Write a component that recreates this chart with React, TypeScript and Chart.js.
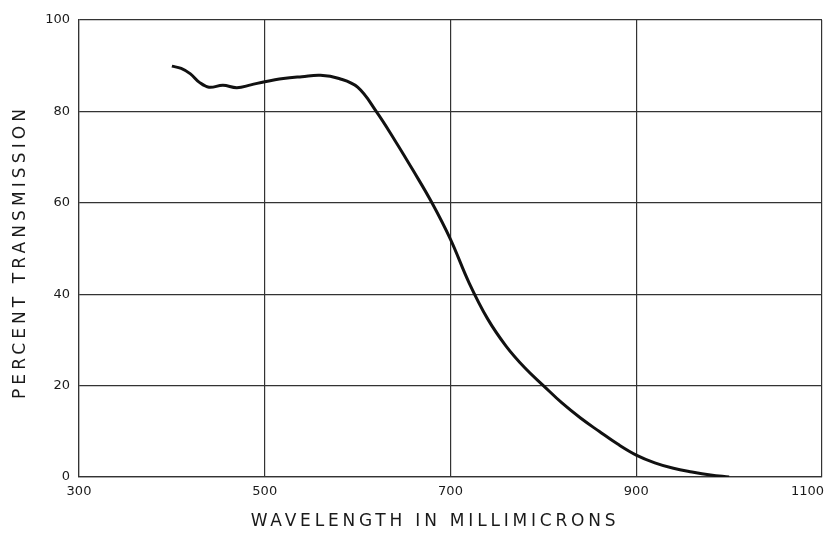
import React, { useEffect, useRef } from "react";
import { Chart, registerables } from "chart.js";

Chart.register(...registerables);

const wavelengths = [400, 410, 420, 430, 440, 455, 470, 485, 500, 520, 540, 560, 580, 600, 620, 640, 660, 680, 700, 720, 740, 760, 780, 800, 820, 840, 860, 880, 900, 920, 940, 960, 980, 1000];
const transmission = [89.9, 89.4, 88.2, 86.3, 85.3, 85.7, 85.2, 85.8, 86.5, 87.2, 87.6, 87.9, 87.2, 85.3, 80, 73.7, 67, 60, 52, 42.5, 34.6, 28.6, 23.9, 20, 16.2, 12.9, 10, 7.2, 4.8, 3.1, 1.9, 1.1, 0.45, 0];
const xTicks = [300, 500, 700, 900, 1100];
const yTicks = [0, 20, 40, 60, 80, 100];
const xTitle = "WAVELENGTH IN MILLIMICRONS";
const yTitle = "PERCENT TRANSMISSION";

const textColor = "#1a1a1a";

const labelsPlugin = {
  id: "labelsPlugin",
  afterDraw(chart: any) {
    const ctx = chart.ctx as CanvasRenderingContext2D;
    const xs = chart.scales.x;
    const area = chart.chartArea;
    ctx.save();
    ctx.fillStyle = textColor;
    ctx.font = '13px "DejaVu Sans"';
    ctx.textBaseline = "top";
    xTicks.forEach((v, i) => {
      const px = xs.getPixelForValue(v);
      const last = i === xTicks.length - 1;
      ctx.textAlign = last ? "right" : "center";
      ctx.fillText(String(v), last ? px + 2 : px, area.bottom + 8);
    });
    (ctx as any).letterSpacing = "3.8px";
    ctx.font = '17px "DejaVu Sans"';
    ctx.textAlign = "center";
    ctx.textBaseline = "middle";
    ctx.fillText(xTitle, 435, 522);
    ctx.translate(21, 252);
    ctx.rotate(-Math.PI / 2);
    (ctx as any).letterSpacing = "4.1px";
    ctx.fillText(yTitle, 0, 0);
    ctx.restore();
  },
};

export default function App() {
  const ref = useRef<HTMLCanvasElement | null>(null);
  useEffect(() => {
    if (!ref.current) return;
    const chart = new Chart(ref.current, {
      type: "line",
      data: {
        datasets: [
          {
            data: wavelengths.map((w, i) => ({ x: w, y: transmission[i] })),
            borderColor: "#111",
            borderWidth: 3,
            pointRadius: 0,
            tension: 0.4,
            fill: false,
          },
        ],
      },
      options: {
        animation: false,
        responsive: false,
        events: [],
        layout: { padding: { top: 20, right: 6, left: 0, bottom: 0 } },
        plugins: { legend: { display: false }, tooltip: { enabled: false } },
        scales: {
          x: {
            type: "linear",
            min: 300,
            max: 1100,
            afterBuildTicks: (s: any) => {
              s.ticks = xTicks.map((v) => ({ value: v }));
            },
            afterFit: (s: any) => {
              s.height = 63;
              s.paddingLeft = 0;
              s.paddingRight = 0;
            },
            ticks: { display: false },
            grid: { color: "#333", lineWidth: 1.2, drawTicks: false },
            border: { color: "#333", width: 1.2 },
          },
          y: {
            type: "linear",
            min: 0,
            max: 100,
            afterBuildTicks: (s: any) => {
              s.ticks = yTicks.map((v) => ({ value: v }));
            },
            afterFit: (s: any) => {
              s.width = 79;
              s.paddingTop = 0;
              s.paddingBottom = 0;
            },
            ticks: {
              color: textColor,
              font: { family: "DejaVu Sans", size: 13 },
              padding: 9,
            },
            grid: { color: "#333", lineWidth: 1.2, drawTicks: false },
            border: { color: "#333", width: 1.2 },
          },
        },
      },
      plugins: [labelsPlugin],
    });
    return () => chart.destroy();
  }, []);
  return (
    <div style={{ position: "fixed", left: 0, top: 0, width: 828, height: 540, background: "#fff" }}>
      <canvas ref={ref} width={828} height={540} />
    </div>
  );
}
